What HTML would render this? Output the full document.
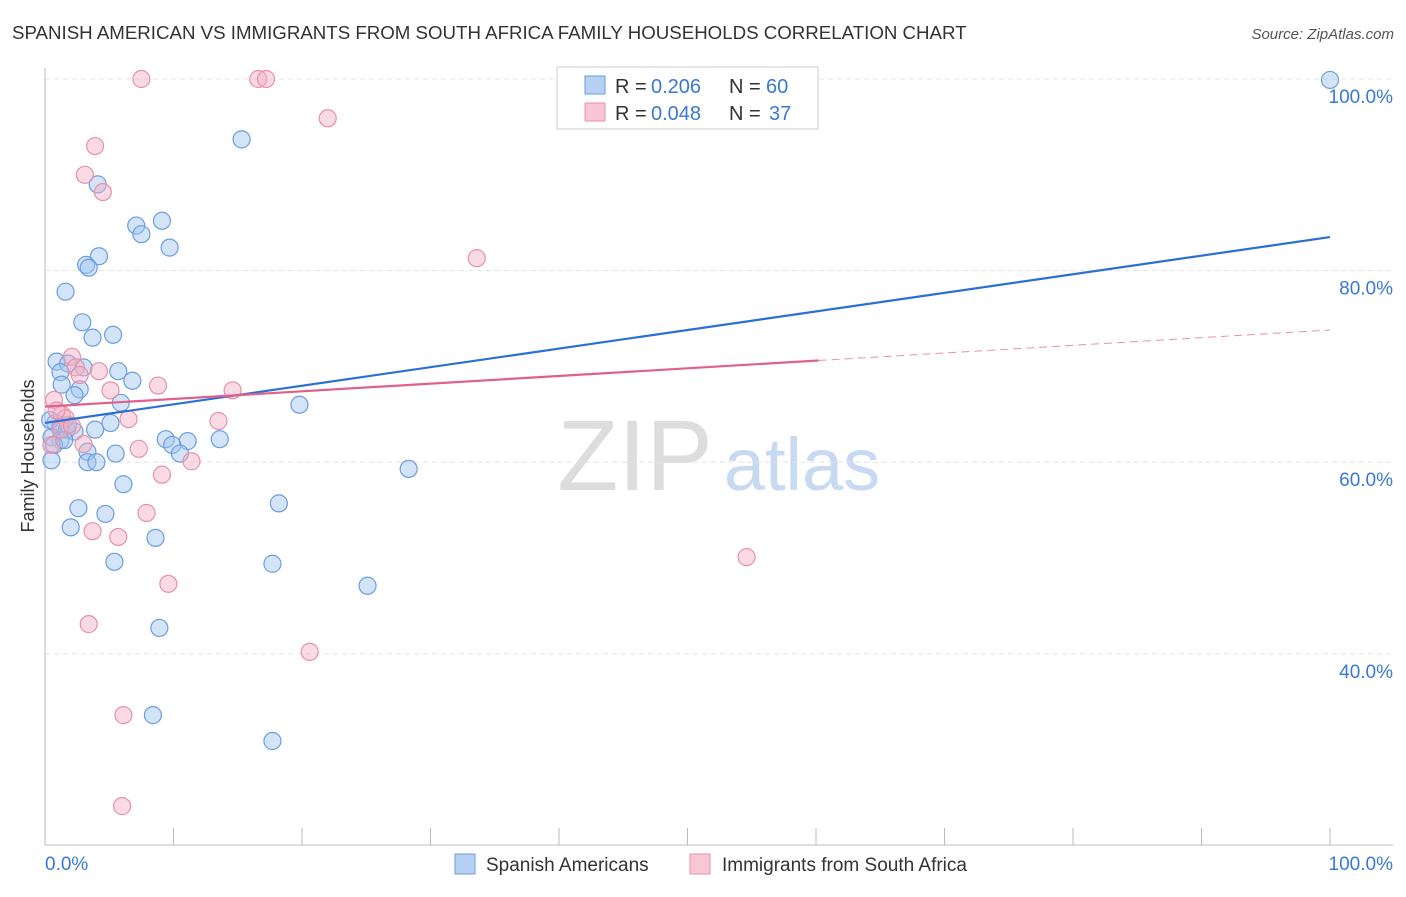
<!DOCTYPE html>
<html><head><meta charset="utf-8"><style>
body{margin:0;background:#fff;font-family:"Liberation Sans",sans-serif;}
svg text{font-family:"Liberation Sans",sans-serif;}
</style></head><body>
<svg id="chart" width="1406" height="892" xmlns="http://www.w3.org/2000/svg">
<text x="12" y="39" font-size="18.7" fill="#333">SPANISH AMERICAN VS IMMIGRANTS FROM SOUTH AFRICA FAMILY HOUSEHOLDS CORRELATION CHART</text>
<text x="1394" y="39" font-size="15" fill="#555" font-style="italic" text-anchor="end">Source: ZipAtlas.com</text>
<g>
<text x="635" y="490" font-size="100" fill="#ddd" text-anchor="middle" font-family="Liberation Serif">ZIP</text>
<text x="802" y="490" font-size="74" fill="#c8daf2" text-anchor="middle">atlas</text>
</g>
<g id="grid"></g><g id="axes"></g><g id="points"></g><g id="lines"></g>
<text transform="translate(34,456) rotate(-90)" font-size="18" fill="#333" text-anchor="middle">Family Households</text>
<g>
<rect x="557" y="67" width="261" height="62" fill="#fff" stroke="#ccc"/>
<rect x="585" y="76" width="20" height="18" fill="#b7d1f5" stroke="#6a9ee0"/>
<rect x="585" y="103" width="20" height="18" fill="#f9c6d6" stroke="#e890aa"/>
<text x="615" y="93" font-size="20" fill="#333">R =</text>
<text x="651" y="93" font-size="20" fill="#3a78d8">0.206</text>
<text x="729" y="93" font-size="20" fill="#333">N =</text>
<text x="766" y="93" font-size="20" fill="#3a78d8">60</text>
<text x="615" y="120" font-size="20" fill="#333">R =</text>
<text x="651" y="120" font-size="20" fill="#3a78d8">0.048</text>
<text x="729" y="120" font-size="20" fill="#333">N =</text>
<text x="769" y="120" font-size="20" fill="#3a78d8">37</text>
</g>
<g>
<rect x="455" y="854" width="20" height="20" fill="#b7d1f5" stroke="#6a9ee0"/>
<text x="486" y="871" font-size="19" fill="#333">Spanish Americans</text>
<rect x="690" y="854" width="20" height="20" fill="#f9c6d6" stroke="#e890aa"/>
<text x="722" y="871" font-size="19" fill="#333">Immigrants from South Africa</text>
</g>
</svg>
<script>
const blueX=[100,15.3,4.1,9.1,7.1,7.5,9.7,4.2,3.2,3.4,1.6,2.9,3.7,5.3,0.9,1.8,3.0,1.2,5.7,6.8,2.7,2.3,5.9,19.8,5.1,0.8,1.2,1.7,2.3,0.5,9.4,11.1,13.6,9.9,10.5,5.5,3.3,3.3,4.0,0.5,28.3,6.1,18.2,2.6,4.7,2.0,8.6,5.4,17.7,25.1,8.9,8.4,17.7,1.2,0.7,1.8,1.3,3.9,0.4,1.5];
const blueY=[99.9,93.7,89.0,85.2,84.7,83.8,82.4,81.5,80.6,80.3,77.8,74.6,73.0,73.3,70.5,70.3,69.9,69.4,69.5,68.5,67.6,67.0,66.2,66.0,64.1,64.1,63.7,63.4,63.2,62.6,62.4,62.2,62.4,61.8,60.9,60.9,61.1,60.0,60.0,60.2,59.3,57.7,55.7,55.2,54.6,53.2,52.1,49.6,49.4,47.1,42.7,33.6,30.9,62.3,61.8,63.9,68.1,63.4,64.4,62.3];
const pinkX=[7.5,16.6,17.2,22.0,3.9,3.1,4.5,33.6,2.1,2.4,2.7,4.2,5.1,8.8,14.6,0.7,1.3,1.6,6.5,13.5,1.2,2.1,3.0,7.3,11.4,9.1,0.5,7.9,3.7,5.7,54.6,9.6,3.4,20.6,6.1,6.0,0.9];
const pinkY=[100,100,100,95.9,93.0,90.0,88.2,81.3,71.0,69.9,69.1,69.5,67.5,68.0,67.5,66.5,65.0,64.6,64.5,64.3,63.4,63.8,61.9,61.4,60.1,58.7,61.8,54.7,52.8,52.2,50.1,47.3,43.1,40.2,33.6,24.1,65.4];
const trendBlue=[64.1,83.5];
const trendPink=[65.8,73.8];
const pinkSolidEnd=60.2;
const yTicks=[40,60,80,100];
const xTicks=[0,10,20,30,40,50,60,70,80,90,100];
const NS="http://www.w3.org/2000/svg";
const X=v=>45+v*12.85, Y=v=>79+(100-v)*9.58;
function mk(tag,attrs,parent){const e=document.createElementNS(NS,tag);for(const k in attrs)e.setAttribute(k,attrs[k]);document.getElementById(parent).appendChild(e);return e;}
yTicks.forEach(t=>{
 const g=mk('line',{x1:45,x2:1393,y1:Y(t),y2:Y(t),stroke:'#e4e4e4','stroke-dasharray':'5,4'},'grid');
 
 
 const l=mk('text',{x:1393,y:Y(t)+24,'font-size':19,fill:'#3a78d8','text-anchor':'end'},'grid');
 l.textContent=t.toFixed(1)+'%';
 
 
});
let ax=mk('line',{x1:45,x2:45,y1:68,y2:845,stroke:'#bbb'},'axes');


ax=mk('line',{x1:45,x2:1393,y1:845,y2:845,stroke:'#bbb'},'axes');


xTicks.forEach(t=>{const k=mk('line',{x1:X(t),x2:X(t),y1:828,y2:845,stroke:'#bbb'},'axes');
 
 });
[[0,'0.0%','start',45],[100,'100.0%','end',1393]].forEach(a=>{const t=mk('text',{x:a[3],y:870,'font-size':19,fill:'#3a78d8','text-anchor':a[2]},'axes');t.textContent=a[1];
 
 });
blueX.forEach((v,i)=>{const c=mk('circle',{cx:X(v),cy:Y(blueY[i]),r:8.5,fill:'rgba(160,195,240,0.45)',stroke:'#6a9ee0','stroke-width':1.2},'points');
 
 });
pinkX.forEach((v,i)=>{const c=mk('circle',{cx:X(v),cy:Y(pinkY[i]),r:8.5,fill:'rgba(245,175,198,0.45)',stroke:'#e890aa','stroke-width':1.2},'points');
 
 });
const pAt=x=>trendPink[0]+(trendPink[1]-trendPink[0])*x/100;
let tl=mk('line',{x1:X(0),y1:Y(trendBlue[0]),x2:X(100),y2:Y(trendBlue[1]),stroke:'#2a6fd6','stroke-width':2.2},'lines');


tl=mk('line',{x1:X(0),y1:Y(pAt(0)),x2:X(pinkSolidEnd),y2:Y(pAt(pinkSolidEnd)),stroke:'#e0608a','stroke-width':2.2},'lines');


tl=mk('line',{x1:X(pinkSolidEnd),y1:Y(pAt(pinkSolidEnd)),x2:X(100),y2:Y(pAt(100)),stroke:'#e890aa','stroke-width':1,'stroke-dasharray':'8,5'},'lines');


</script>
</body></html>
